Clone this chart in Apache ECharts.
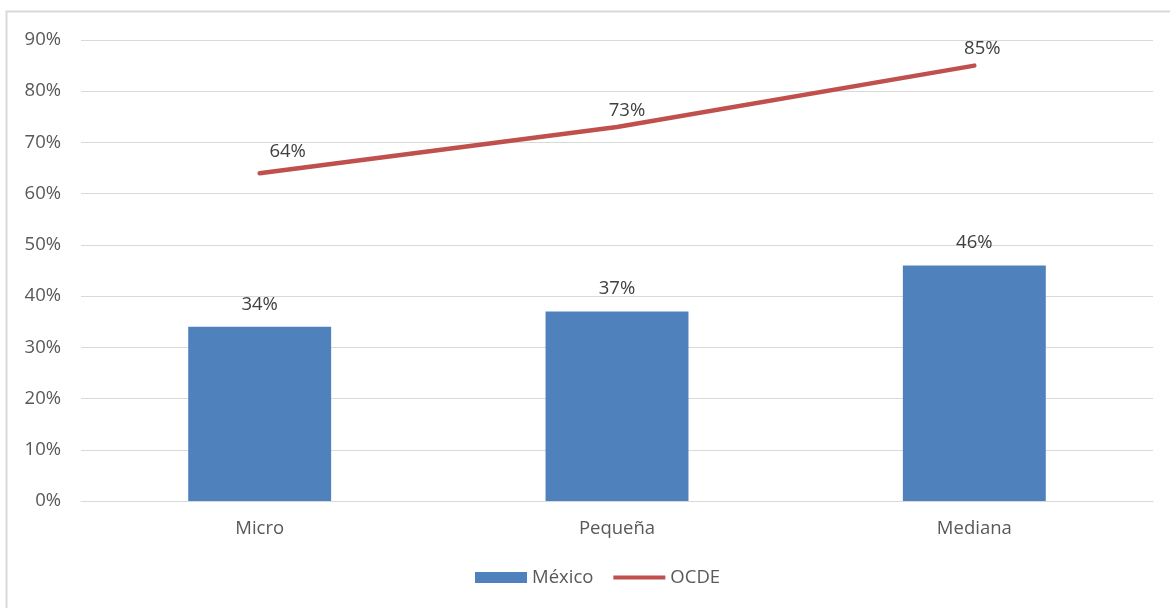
<!DOCTYPE html>
<html>
<head>
<meta charset="utf-8">
<script src="https://cdn.jsdelivr.net/npm/echarts@6/dist/echarts.min.js"></script>
<style>
html,body{margin:0;padding:0;background:#fff;}
#c{width:1170px;height:608px;}
</style>
</head>
<body>
<div id="c"></div>
<script>
const categories = ["Micro", "Pequeña", "Mediana"];
const mexico = [0.34, 0.37, 0.46];
const ocde = [0.64, 0.73, 0.85];
const yTicks = ["0%","10%","20%","30%","40%","50%","60%","70%","80%","90%"];

const lineLabelOffsets = [[28, 0], [10, 5], [8, 5]];
const FONT = "'Open Sans', 'Liberation Sans', sans-serif";
const FS = 18.5;
const pct = v => Math.round(v * 100) + "%";

const chart = echarts.init(document.getElementById('c'), null, {renderer: 'canvas'});
chart.setOption({
  animation: false,
  backgroundColor: '#ffffff',
  textStyle: {fontFamily: FONT},
  graphic: [{
    type: 'rect', silent: true,
    shape: {x: 6.5, y: 11.5, width: 1300, height: 800},
    style: {fill: 'none', stroke: '#d9d9d9', lineWidth: 2}
  }],
  grid: {left: 81, right: 17, top: 40, bottom: 107, containLabel: false},
  legend: {
    bottom: 16, left: 470,
    itemWidth: 52, itemHeight: 11, itemGap: 20,
    textStyle: {fontFamily: FONT, fontSize: FS, color: '#595959'},
    data: [
      {name: 'México', icon: 'rect'},
      {name: 'OCDE', icon: 'path://M0,0 L52,0 L52,4 L0,4 Z', itemStyle: {color: '#C0504D'}}
    ]
  },
  xAxis: {
    type: 'category', data: categories,
    axisLine: {show: true, lineStyle: {color: '#d9d9d9', width: 1}},
    axisTick: {show: false},
    axisLabel: {fontFamily: FONT, fontSize: FS, color: '#595959', margin: 18}
  },
  yAxis: {
    type: 'value', min: 0, max: 0.9, interval: 0.1,
    axisLine: {show: false}, axisTick: {show: false},
    splitLine: {lineStyle: {color: '#d9d9d9', width: 1}},
    axisLabel: {fontFamily: FONT, fontSize: FS, color: '#595959', margin: 20,
      formatter: (v) => yTicks[Math.round(v * 10)]}
  },
  series: [
    {
      name: 'México', type: 'bar', data: mexico, barWidth: '40%',
      itemStyle: {color: '#4F81BD'},
      label: {show: true, position: 'top', distance: 13, fontFamily: FONT, fontSize: FS, color: '#404040',
        formatter: p => pct(p.value)}
    },
    {
      name: 'OCDE', type: 'line',
      data: ocde.map((v, i) => ({value: v, label: {offset: lineLabelOffsets[i]}})),
      symbol: 'circle', symbolSize: 0.01, showSymbol: true,
      lineStyle: {color: '#C0504D', width: 4.5, cap: 'round'},
      itemStyle: {color: '#C0504D'},
      label: {show: true, position: 'top', distance: 12, fontFamily: FONT, fontSize: FS, color: '#404040',
        formatter: p => pct(p.value)}
    }
  ]
});
</script>
</body>
</html>
